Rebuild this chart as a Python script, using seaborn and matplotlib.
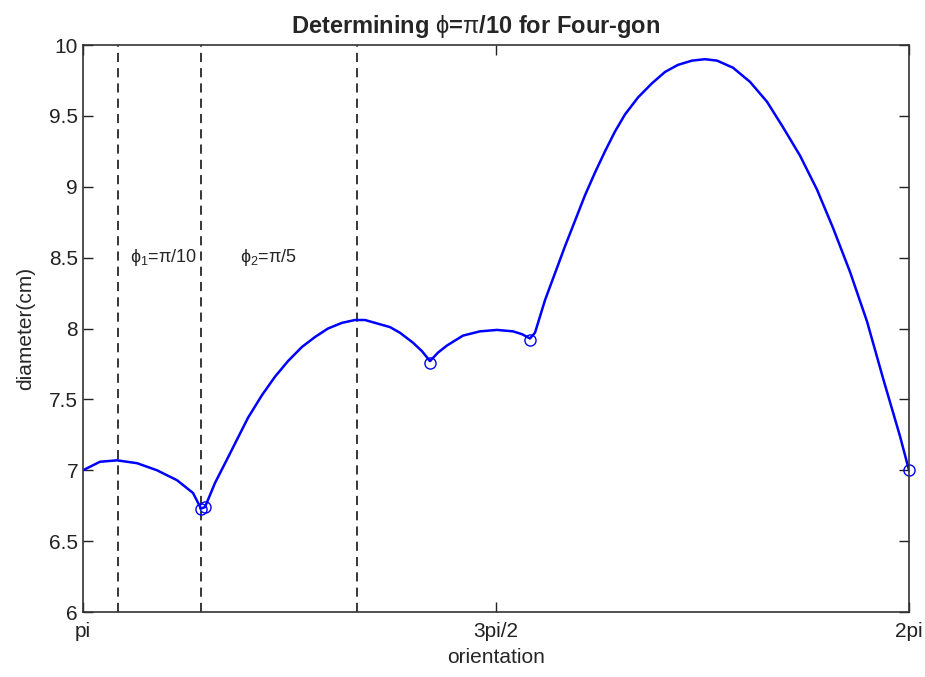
import numpy as np
import pandas as pd
import matplotlib
matplotlib.use("Agg")
import matplotlib.pyplot as plt
import seaborn as sns

# curve (orientation in rad, diameter in cm)
orientation = [3.1416, 3.2063, 3.2709, 3.3470, 3.4230, 3.4991, 3.5600, 3.5904,
               3.6056, 3.6436, 3.6931, 3.7311, 3.7692, 3.8224, 3.8719, 3.9213,
               3.9745, 4.0240, 4.0734, 4.1267, 4.1761, 4.2142,
               4.2522, 4.3092, 4.3473, 4.3967, 4.4310, 4.4614, 4.4918, 4.5260,
               4.5869, 4.6515, 4.7162, 4.7771, 4.8113, 4.8417,
               4.8607, 4.8988, 4.9368, 4.9748, 5.0129, 5.0509, 5.0889, 5.1270,
               5.1650, 5.2030, 5.2525, 5.3057, 5.3552, 5.4046, 5.4579, 5.5073,
               5.5530, 5.6138, 5.6785, 5.7431, 5.8040, 5.8686, 5.9333, 5.9942,
               6.0588, 6.1235, 6.1843, 6.2490, 6.2832]
diameter = [7.00, 7.06, 7.07, 7.05, 7.00, 6.93, 6.84, 6.73,
            6.74, 6.91, 7.09, 7.23, 7.37, 7.53, 7.66, 7.77,
            7.87, 7.94, 8.00, 8.04, 8.06, 8.06,
            8.04, 8.01, 7.97, 7.90, 7.84, 7.77, 7.83, 7.88,
            7.95, 7.98, 7.99, 7.98, 7.96, 7.93,
            7.97, 8.20, 8.39, 8.58, 8.76, 8.94, 9.10, 9.25,
            9.39, 9.51, 9.63, 9.73, 9.81, 9.86, 9.89, 9.90,
            9.89, 9.84, 9.74, 9.60, 9.42, 9.22, 8.98, 8.71,
            8.40, 8.05, 7.65, 7.24, 7.00]

# circled points
mark_x = [3.5904, 3.6056, 4.4614, 4.8417, 6.2832]
mark_y = [6.73, 6.74, 7.76, 7.92, 7.00]

# dashed vertical lines
vlines = [3.2747, 3.5904, 4.1837]

xtick_pos = [np.pi, 1.5 * np.pi, 2 * np.pi]
xtick_labels = ["pi", "3pi/2", "2pi"]
ytick_pos = [6, 6.5, 7, 7.5, 8, 8.5, 9, 9.5, 10]
ytick_labels = ["6", "6.5", "7", "7.5", "8", "8.5", "9", "9.5", "10"]

df = pd.DataFrame({"orientation": orientation, "diameter": diameter})
marks = pd.DataFrame({"orientation": mark_x, "diameter": mark_y})

sns.set_style("ticks")
plt.rcParams['font.family'] = ['Liberation Sans', 'DejaVu Sans']
plt.rcParams['mathtext.fontset'] = 'custom'
plt.rcParams['mathtext.rm'] = 'Liberation Sans'
plt.rcParams['mathtext.it'] = 'Liberation Sans'

fig = plt.figure(figsize=(9.25, 6.77), dpi=100)
ax = fig.add_axes([0.0897, 0.096, 0.893, 0.8375])

for v in vlines:
    ax.axvline(v, color="black", linestyle=(0, (6, 4)), linewidth=1.1)

sns.lineplot(data=df, x="orientation", y="diameter", sort=False, color="#0000ff",
             linewidth=1.8, ax=ax)
ax.plot(marks["orientation"], marks["diameter"], linestyle="none", marker="o",
        markersize=8, markerfacecolor="none", markeredgecolor="#0000ff",
        markeredgewidth=1.0, clip_on=False)

ax.text(3.3204, 8.5, r"$\phi_1$=$\pi$/10", fontsize=13, va="center")
ax.text(3.7387, 8.5, r"$\phi_2$=$\pi$/5", fontsize=13, va="center")

ax.set_xlim(np.pi, 2 * np.pi)
ax.set_ylim(6, 10)
ax.set_xticks(xtick_pos)
ax.set_xticklabels(xtick_labels)
ax.set_yticks(ytick_pos)
ax.set_yticklabels(ytick_labels)
ax.tick_params(direction="in", length=7, width=1, labelsize=15, colors="#222222",
               top=True, right=True)
ax.tick_params(axis="x", pad=7)
for s in ax.spines.values():
    s.set_linewidth(1.2)
    s.set_color("#333333")

ax.set_xlabel("orientation", fontsize=15, labelpad=5)
ax.set_ylabel("diameter(cm)", fontsize=15, labelpad=10)
ax.set_title(r"Determining $\phi$=$\pi$/10 for Four-gon", fontsize=17,
             fontweight="bold", x=0.475, pad=9)

plt.savefig("out.png", dpi=100)
